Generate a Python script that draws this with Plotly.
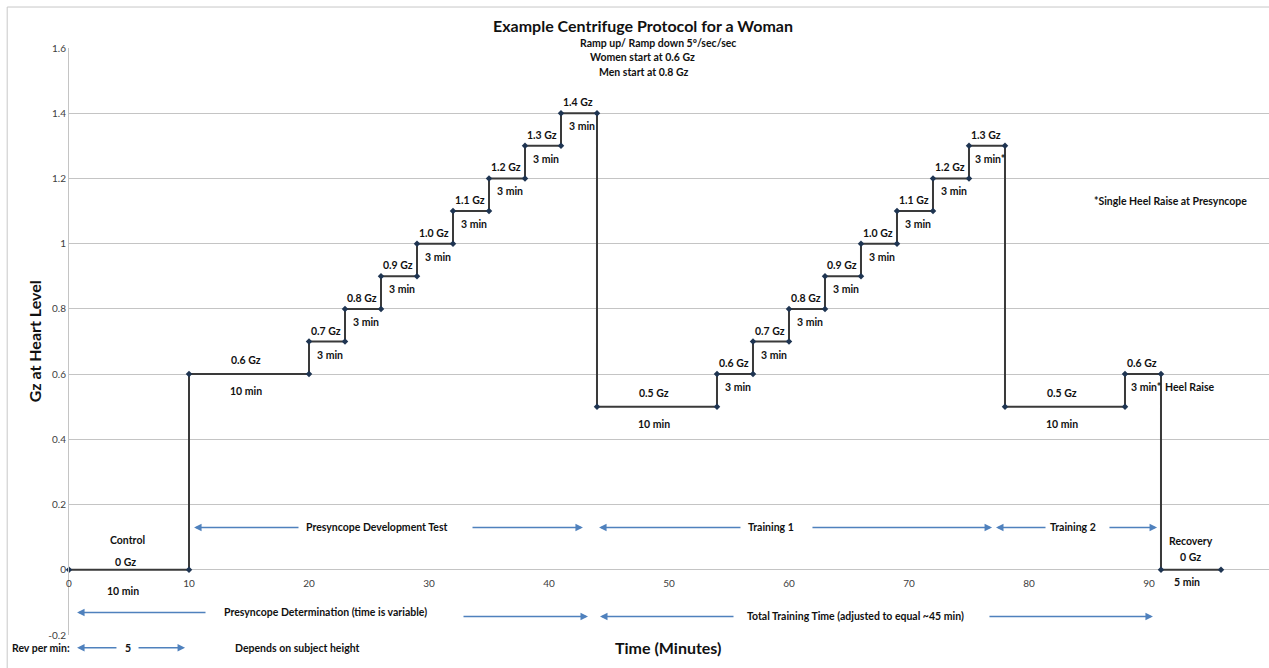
import plotly.graph_objects as go

# ---- data ----
seg_start = [0, 10, 20, 23, 26, 29, 32, 35, 38, 41, 44, 54, 57, 60, 63, 66, 69, 72, 75, 78, 88, 91]
seg_end   = [10, 20, 23, 26, 29, 32, 35, 38, 41, 44, 54, 57, 60, 63, 66, 69, 72, 75, 78, 88, 91, 96]
seg_gz    = [0, 0.6, 0.7, 0.8, 0.9, 1.0, 1.1, 1.2, 1.3, 1.4, 0.5, 0.6, 0.7, 0.8, 0.9, 1.0, 1.1, 1.2, 1.3, 0.5, 0.6, 0]
gz_text   = ["0 Gz", "0.6 Gz", "0.7 Gz", "0.8 Gz", "0.9 Gz", "1.0 Gz", "1.1 Gz", "1.2 Gz", "1.3 Gz", "1.4 Gz",
             "0.5 Gz", "0.6 Gz", "0.7 Gz", "0.8 Gz", "0.9 Gz", "1.0 Gz", "1.1 Gz", "1.2 Gz", "1.3 Gz",
             "0.5 Gz", "0.6 Gz", "0 Gz"]
dur_text  = ["10 min", "10 min", "3 min", "3 min", "3 min", "3 min", "3 min", "3 min", "3 min", "3 min",
             "10 min", "3 min", "3 min", "3 min", "3 min", "3 min", "3 min", "3 min", "3 min*",
             "10 min", "3 min*", "5 min"]

x_ticks = [0, 10, 20, 30, 40, 50, 60, 70, 80, 90, 100]
y_ticks = [-0.2, 0, 0.2, 0.4, 0.6, 0.8, 1, 1.2, 1.4, 1.6]
y_tick_text = ["-0.2", "0", "0.2", "0.4", "0.6", "0.8", "1", "1.2", "1.4", "1.6"]

X_MIN, X_MAX = 0, 100
Y_MIN, Y_MAX = -0.2, 1.6

FONT = "Lato"
TXT = "#111111"
ARROW = "#4f81bd"
GRID = "#c4c4c4"

# build stepped line from segments
xs, ys = [], []
for s, e, g in zip(seg_start, seg_end, seg_gz):
    xs += [s, e]
    ys += [g, g]

fig = go.Figure()
fig.add_trace(go.Scatter(
    x=xs, y=ys, mode="lines+markers",
    line=dict(color="#3a3a3a", width=2),
    marker=dict(symbol="diamond", size=5, color="#1f3552"),
    showlegend=False, hoverinfo="skip", cliponaxis=False,
))

ann = []

def px_(x):
    return (x - X_MIN) / (X_MAX - X_MIN)

def py_(y):
    return (y - Y_MIN) / (Y_MAX - Y_MIN)

def label(x, y, text, size=10.5, xshift=0, yshift=0, bold=True, **kw):
    # positions given in data units, placed via axis-domain coordinates so that
    # labels outside the axis ranges are still drawn
    t = f"<b>{text}</b>" if bold else text
    d = dict(x=px_(x), y=py_(y), xref="x domain", yref="y domain", text=t, showarrow=False,
             xanchor="center", yanchor="middle",
             font=dict(family=FONT, size=size, color=TXT), xshift=xshift, yshift=yshift)
    d.update(kw)
    ann.append(d)

n = len(seg_start)
for i, (s, e, g, gt, dt) in enumerate(zip(seg_start, seg_end, seg_gz, gz_text, dur_text)):
    c = (s + e) / 2
    dur = e - s
    if i == 0:
        label(c, g, gt, yshift=8, xshift=-4)
        label(c, g, dt, yshift=-21, xshift=-6)
        label(c, g, "Control", yshift=30, xshift=-2)
    elif i == n - 1:
        label(c, g, gt, yshift=13, xshift=-1)
        label(c, g, dt, yshift=-12, xshift=-4)
        label(c, g, "Recovery", yshift=29)
    elif dur >= 10:
        label(c, g, gt, yshift=14, xshift=-3)
        label(c, g, dt, yshift=-17, xshift=-3)
    else:
        label(c, g, gt, yshift=11, xshift=-1)
        label(c, g, dt, yshift=-13, xshift=3)

# side notes
label(91.83, 1.131, "*Single Heel Raise at Presyncope")
label(93.4, 0.56, "Heel Raise")

# phase annotations
r1 = 0.13
label(25.6, r1, "Presyncope Development Test")
label(58.5, r1, "Training 1")
label(83.67, r1, "Training 2")
r2a, r2b = -0.131, -0.143
label(21.4, r2a, "Presyncope Determination (time is variable)")
label(65.5, r2b, "Total Training Time (adjusted to equal ~45 min)")
r3 = -0.239
label(-2.35, r3, "Rev per min:")
label(4.92, r3, "5")
label(19.0, r3, "Depends on subject height")

def arrow(x_head, x_tail, y):
    ann.append(dict(x=px_(x_head), y=py_(y), ax=px_(x_tail), ay=py_(y),
                    xref="x domain", yref="y domain", axref="x domain", ayref="y domain",
                    text="", showarrow=True, arrowhead=2, arrowsize=1, arrowwidth=1.5,
                    arrowcolor=ARROW))

arrow(10.42, 19.25, r1)
arrow(42.83, 33.5, r1)
arrow(44.17, 56.08, r1)
arrow(76.92, 61.83, r1)
arrow(77.25, 81.5, r1)
arrow(90.67, 86.58, r1)
arrow(0.67, 11.5, r2a)
arrow(43.25, 32.75, r2b)
arrow(44.25, 55.5, r2b)
arrow(90.33, 76.58, r2b)
arrow(0.67, 4.08, r3)
arrow(9.67, 5.67, r3)

# subtitles
label(49.08, 1.614, "Ramp up/ Ramp down 5º/sec/sec", size=10.5)
label(47.83, 1.571, "Women start at 0.6 Gz", size=10.5)
label(47.88, 1.525, "Men start at 0.8 Gz", size=10.5)

# axis titles
label(49.9, r3, "Time (Minutes)", size=16)
label(-2.85, 0.70, "Gz at Heart Level", size=16, textangle=-90)

fig.update_layout(
    width=1269, height=668,
    margin=dict(l=69, r=0, t=48, b=33, autoexpand=False),
    paper_bgcolor="white", plot_bgcolor="white",
    title=dict(text="<b>Example Centrifuge Protocol for a Woman</b>", x=643 / 1269, xanchor="center",
               y=1 - 26 / 668, yanchor="middle", font=dict(family=FONT, size=16, color=TXT)),
    annotations=ann,
    shapes=[dict(type="rect", xref="paper", yref="paper", x0=-0.0515, x1=1.01, y0=-0.1, y1=1.0698,
                 line=dict(color="#c8c8c8", width=1), fillcolor="rgba(0,0,0,0)", layer="below")],
    xaxis=dict(range=[X_MIN, X_MAX + 0.001], tickvals=x_ticks, showgrid=False, zeroline=False, showline=False,
               anchor="free", position=py_(0), ticks="", ticklabelstandoff=6,
               tickfont=dict(family=FONT, size=10, color="#404040")),
    yaxis=dict(range=[Y_MIN, Y_MAX], tickvals=y_ticks, ticktext=y_tick_text, showgrid=True,
               gridcolor=GRID, gridwidth=1, zeroline=False, showline=True, linecolor=GRID,
               ticks="", tickfont=dict(family=FONT, size=10, color="#404040")),
)

fig.write_html("out.html", config={"displayModeBar": False},
               post_script="document.body.style.margin='0';document.body.style.overflow='hidden';")
